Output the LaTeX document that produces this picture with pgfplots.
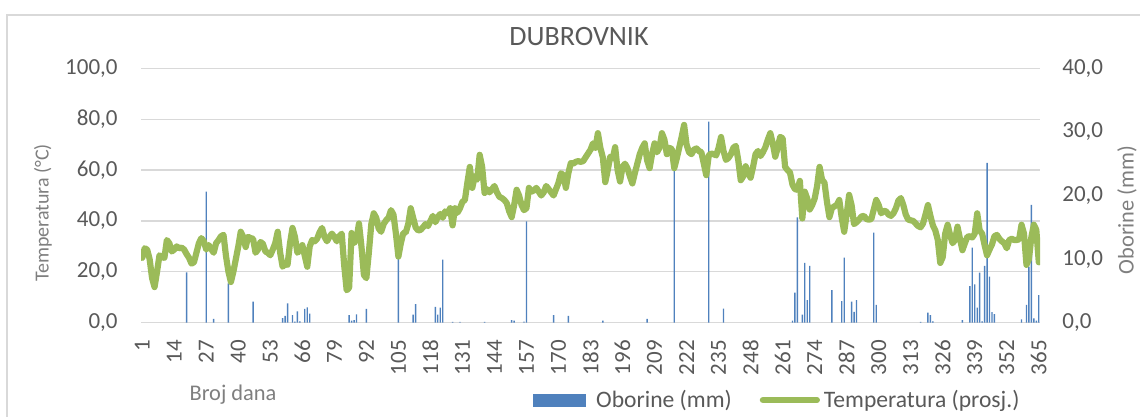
\documentclass[border=0pt]{standalone}
\usepackage{pgfplots}
\pgfplotsset{compat=1.18}
\usepackage{pgfplotstable}
\usepackage{fontspec}
\setmainfont{Carlito}
\definecolor{barblue}{HTML}{4F81BD}
\definecolor{linegreen}{HTML}{9BBB59}
\definecolor{gridgray}{HTML}{D9D9D9}
\definecolor{txtgray}{HTML}{595959}
\definecolor{lblgray}{HTML}{7F7F7F}

\pgfplotstableread{
day val
19 19.8
27 51.5
30 1.5
36 15.5
46 8.3
58 1.8
59 2.7
60 7.6
62 3
63 0.4
64 4.5
65 0.5
67 5.4
68 6
69 3.6
85 3
86 0.8
87 1
88 3.3
92 5.4
105 26.5
111 3.2
112 7.3
120 6.2
121 3.2
122 5.9
123 24.8
127 0.3
130 0.3
140 0.3
151 1
152 0.8
156 0.4
157 39.8
168 3
174 2.7
188 0.8
206 1.5
217 62
231 79
237 5.5
265 0.8
266 11.8
267 41.4
269 3.2
270 23.5
271 8.9
272 22.3
281 12.8
285 8.5
286 25.6
289 8.3
290 4.3
291 8.9
298 35.4
299 7
317 0.3
320 4
321 3
322 0.5
334 1
337 14.4
338 29.5
339 15.1
340 5.9
341 19.7
342 0.5
343 22.3
344 62.8
345 18.1
346 4.2
347 3.4
358 1.3
360 7
361 22
362 46.3
363 1.7
364 0.8
365 10.8
}\oborine

\pgfplotstableread{
day t
1 10.2
2 11.7
3 11.5
4 10
5 7
6 5.6
7 8
8 10.6
9 10.3
10 10.2
11 13
12 12.5
13 11.2
14 11.5
15 12
16 11.7
17 11.8
18 11.5
19 10.8
20 10.2
21 9.3
22 9.5
23 11
24 12.5
25 13.3
26 12.8
27 11.5
28 12.2
29 11.6
30 11
31 12.5
32 13
33 13.6
34 13.8
35 10.5
36 8
37 6.4
38 8
39 10
40 12
41 14.3
42 13.5
43 11.9
44 13.5
45 13.3
46 13.2
47 11
48 11.5
49 12.7
50 12.4
51 11.2
52 11
53 10.6
54 11.5
55 12.5
56 14.3
57 11
58 8.8
59 9.2
60 9.1
61 12.5
62 14.9
63 13.5
64 11
65 11.4
66 12.2
67 10.5
68 8.8
69 12
70 13
71 12.8
72 13.2
73 14.2
74 14.9
75 13.5
76 12.8
77 13.5
78 14
79 13.5
80 12.8
81 13.6
82 14
83 9
84 5.1
85 5.5
86 14.1
87 12.5
88 13.2
89 15.6
90 12
91 7.5
92 7
93 11
94 15.5
95 17.2
96 16.5
97 14.8
98 14.3
99 15.5
100 16.1
101 16.5
102 17.7
103 17
104 14
105 10.4
106 12.5
107 14.1
108 14.2
109 15.5
110 18
111 16.5
112 15
113 14.5
114 14.6
115 15
116 15.5
117 15.2
118 16
119 16.8
120 15.8
121 16.6
122 17.1
123 16.5
124 17.5
125 17.2
126 18
127 15.3
128 18
129 17.3
130 18
131 19
132 19.3
133 22
134 24.5
135 21.2
136 23
137 22.5
138 26.4
139 24.5
140 20.4
141 21
142 20.5
143 21
144 21.5
145 20.5
146 19.8
147 19.6
148 19.3
149 18.8
150 17.5
151 16.6
152 18.5
153 20.9
154 20
155 18.5
156 17.7
157 18
158 21.2
159 20.6
160 20.8
161 21.2
162 20.6
163 20
164 20.5
165 21.5
166 21
167 20.5
168 20
169 21
170 22
171 23.5
172 23.2
173 21.2
174 23.5
175 25.1
176 25
177 25.3
178 25.4
179 25.3
180 25.4
181 26
182 26.6
183 27.2
184 28.2
185 27.5
186 29.8
187 27.5
188 26
189 22.1
190 24
191 26.1
192 25.8
193 27.6
194 24
195 22.2
196 24.5
197 25
198 24.3
199 23
200 21.9
201 23.5
202 25
203 26.5
204 27.5
205 28.2
206 25.5
207 24.3
208 26.5
209 28.2
210 26.8
211 27.5
212 29.8
213 28.8
214 26.5
215 27.5
216 27.3
217 24.3
218 25.8
219 27.5
220 29.2
221 31.1
222 28
223 26.8
224 26.5
225 27.2
226 27.4
227 27
228 26.8
229 25
230 23.2
231 26.3
232 26.6
233 26.5
234 26.3
235 27.5
236 29.2
237 27
238 25.6
239 25.9
240 26.5
241 27.5
242 27.8
243 25.5
244 22.4
245 23
246 24.6
247 23.5
248 22.8
249 24.5
250 26.5
251 27
252 26.2
253 26.8
254 27.6
255 28.8
256 29.8
257 28.2
258 26.1
259 27.5
260 29.2
261 29
262 24.5
263 24
264 23.6
265 21.7
266 21
267 20.9
268 22.3
269 16.4
270 20.6
271 19.5
272 17.8
273 18.5
274 19.5
275 21.5
276 24.5
277 22.5
278 22
279 19
280 16.6
281 18
282 18.3
283 18.5
284 19.3
285 16.5
286 14.3
287 17
288 20.1
289 18.5
290 15.5
291 15.8
292 16.2
293 16.7
294 16.8
295 16.3
296 16.2
297 16.3
298 17.8
299 19.3
300 18.5
301 17.2
302 17.6
303 17.5
304 17
305 16.8
306 17.2
307 18
308 19.2
309 19.6
310 18.5
311 17
312 16.2
313 16.1
314 16
315 15.6
316 15.2
317 15
318 15.6
319 17
320 18.5
321 16.8
322 15.3
323 14.5
324 13
325 9.4
326 10.3
327 14
328 15.4
329 13.8
330 12.5
331 13
332 15.1
333 13.2
334 11.4
335 12.5
336 13.5
337 13.6
338 13.4
339 14
340 17.2
341 14.5
342 14
343 12.2
344 10.6
345 11.5
346 12.3
347 13.6
348 13.8
349 13.2
350 12.8
351 12.5
352 11.7
353 13
354 13.2
355 13
356 13
357 13.1
358 15.4
359 14
360 9.1
361 10
362 13.5
363 15.4
364 14.6
365 9.5
}\temperatura

\begin{document}
\begin{tikzpicture}
\useasboundingbox (0,0) rectangle (570pt,-208.5pt);
\draw[gridgray, line width=0.6pt] (3.5pt,-210pt) -- (3.5pt,-7.5pt) -- (572pt,-7.5pt);

\begin{axis}[
  scale only axis,
  width=449.5pt, height=127.2pt,
  at={(70.5pt,-161.35pt)}, anchor=south west,
  xmin=0.5, xmax=365.5,
  ymin=0, ymax=100,
  ytick={0,20,...,100},
  xtick={1,14,...,365},
  ymajorgrids,
  grid style={color=gridgray, line width=0.6pt},
  axis line style={draw=none},
  major tick length=0pt,
  /pgf/number format/assume math mode=true,
  tick label style={font=\fontsize{11.5}{13}\selectfont, text=txtgray},
  yticklabel style={inner sep=0pt, anchor=east, xshift=-11.5pt,
    /pgf/number format/.cd, fixed, fixed zerofill, precision=1, use comma},
  xticklabel style={rotate=90, inner sep=0pt, anchor=east},
  xticklabel shift=8.5pt,
  ybar, bar width=0.7pt,
]
\addplot[fill=barblue, draw=none] table[x=day, y=val] {\oborine};
\end{axis}

\begin{axis}[
  scale only axis,
  width=449.5pt, height=127.2pt,
  at={(70.5pt,-161.35pt)}, anchor=south west,
  xmin=0.5, xmax=365.5,
  ymin=0, ymax=40,
  ytick={0,10,...,40},
  axis x line=none,
  axis y line*=right,
  axis line style={draw=none},
  major tick length=0pt,
  /pgf/number format/assume math mode=true,
  tick label style={font=\fontsize{11.5}{13}\selectfont, text=txtgray},
  yticklabel style={inner sep=0pt, anchor=west, xshift=11pt,
    /pgf/number format/.cd, fixed, fixed zerofill, precision=1, use comma},
  legend columns=2,
  legend style={draw=none, fill=none, at={(0.436,-0.304)}, anchor=west,
    font=\fontsize{11.8}{13}\selectfont, text=txtgray, inner sep=0pt,
    /tikz/every even column/.append style={column sep=12pt}},
  legend cell align=left,
]
\addlegendimage{legend image code/.code={\fill[barblue] (0pt,-3pt) rectangle (26pt,3pt); \path (29pt,0pt);}}
\addlegendentry{Oborine (mm)}
\addplot[linegreen, line width=3.1pt, line join=round, line cap=round,
  legend image code/.code={\draw[linegreen, line width=3.1pt, line cap=round] (0pt,0pt) -- (27pt,0pt);}]
  table[x=day, y=t] {\temperatura};
\addlegendentry{Temperatura (prosj.)}
\end{axis}

\node[text=txtgray, font=\fontsize{14}{16}\selectfont] at (289.5pt,-18.5pt) {DUBROVNIK};
\node[text=lblgray, rotate=90, font=\fontsize{10}{12}\selectfont] at (21.5pt,-106.5pt) {Temperatura (°C)};
\node[text=lblgray, rotate=90, font=\fontsize{11.2}{13}\selectfont] at (563.5pt,-105pt) {Oborine (mm)};
\node[text=lblgray, font=\fontsize{11.2}{13}\selectfont] at (116.5pt,-197.5pt) {Broj dana};
\end{tikzpicture}
\end{document}
